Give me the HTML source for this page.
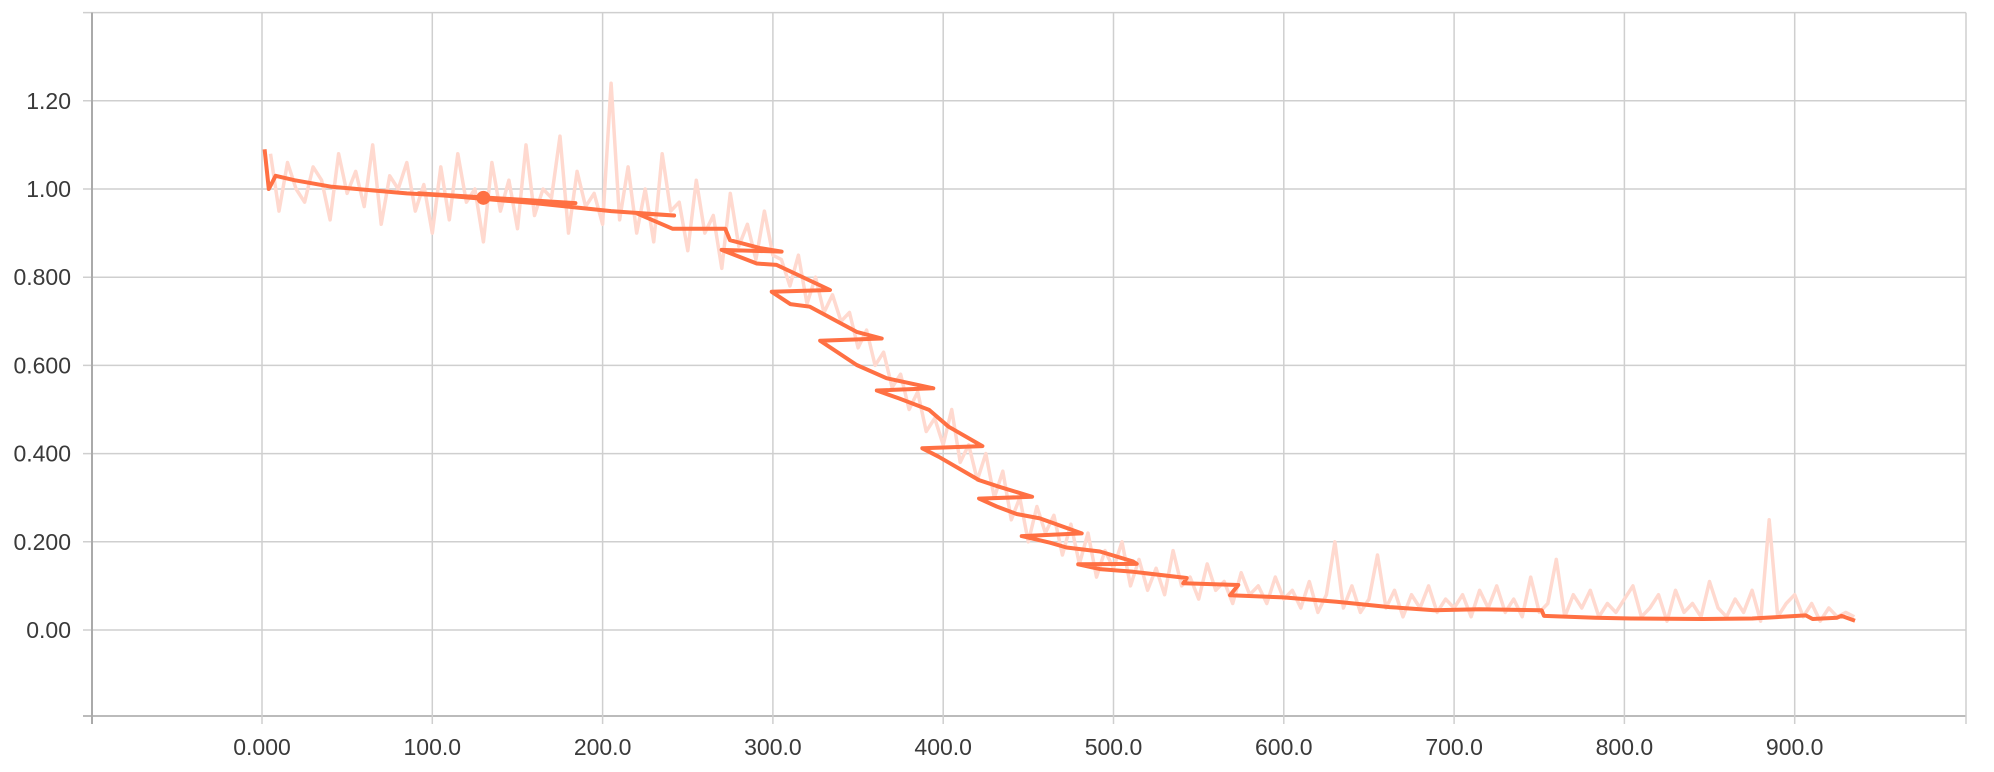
<!DOCTYPE html>
<html><head><meta charset="utf-8">
<style>
html,body{margin:0;padding:0;background:#fff;}
svg{display:block;}
text{font-family:"Liberation Sans",sans-serif;font-size:23px;fill:#3a3a3a;}
</style></head>
<body>
<svg id="chart" width="1994" height="772" viewBox="0 0 1994 772" xmlns="http://www.w3.org/2000/svg">
<g id="grid"></g>
<g id="axes"></g>
<g id="series"></g>
</svg>
<script>
const yTicks=[0,0.2,0.4,0.6,0.8,1.0,1.2];
const yTickLabels=["0.00","0.200","0.400","0.600","0.800","1.00","1.20"];
const xTicks=[0,100,200,300,400,500,600,700,800,900];
const xTickLabels=["0.000","100.0","200.0","300.0","400.0","500.0","600.0","700.0","800.0","900.0"];
const rawStart=5, rawStep=5;
const rawValues=[
1.08,0.95,1.06,1.0,0.97,1.05,1.02,0.93,1.08,0.99,1.04,0.96,1.1,0.92,1.03,1.0,1.06,0.95,1.01,0.9,
1.05,0.93,1.08,0.97,1.0,0.88,1.06,0.95,1.02,0.91,1.1,0.94,1.0,0.98,1.12,0.9,1.04,0.96,0.99,0.92,
1.24,0.93,1.05,0.9,1.0,0.88,1.08,0.95,0.97,0.86,1.02,0.9,0.94,0.82,0.99,0.87,0.92,0.84,0.95,0.85,
0.84,0.78,0.85,0.74,0.8,0.72,0.76,0.7,0.72,0.64,0.68,0.6,0.63,0.55,0.58,0.5,0.54,0.45,0.48,0.42,
0.5,0.38,0.42,0.34,0.4,0.3,0.36,0.25,0.3,0.2,0.28,0.22,0.26,0.17,0.24,0.15,0.22,0.12,0.18,0.14,
0.2,0.1,0.16,0.09,0.14,0.08,0.18,0.1,0.12,0.07,0.15,0.09,0.11,0.06,0.13,0.08,0.1,0.06,0.12,0.07,
0.09,0.05,0.11,0.04,0.08,0.2,0.05,0.1,0.04,0.07,0.17,0.05,0.09,0.03,0.08,0.05,0.1,0.04,0.07,0.05,
0.08,0.03,0.09,0.05,0.1,0.04,0.07,0.03,0.12,0.04,0.06,0.16,0.03,0.08,0.05,0.09,0.03,0.06,0.04,0.07,
0.1,0.03,0.05,0.08,0.02,0.09,0.04,0.06,0.03,0.11,0.05,0.03,0.07,0.04,0.09,0.02,0.25,0.03,0.06,0.08,
0.03,0.06,0.02,0.05,0.03,0.04,0.03];
const smoothX=[1.5,4,8,19,41,85,130,184,92,160,205,242,220,241,272,274.8,292.4,305.1,269.9,290.5,302.2,333.5,299.3,310.2,321.7,349.2,363.9,327.7,349.2,366.7,394.2,361.0,374.2,391.7,403.2,423.0,387.7,397.3,421.0,432.7,452.2,421.0,431.4,443.1,456.8,470.5,481.3,446.1,462.7,472.4,492.0,511.6,513.6,479.3,492.0,511.6,543.0,541.0,573.3,568.4,599.7,631.0,662.1,688.4,714.6,751.4,752.8,783.0,804.0,846.1,875.0,906.5,910.5,924.9,927.5,935.4];
const smoothY=[1.09,1.0,1.03,1.02,1.005,0.99,0.98,0.968,0.99,0.968,0.95,0.94,0.945,0.91,0.91,0.884,0.866,0.858,0.862,0.831,0.828,0.771,0.767,0.739,0.733,0.676,0.661,0.656,0.601,0.571,0.548,0.543,0.525,0.499,0.461,0.417,0.412,0.393,0.340,0.325,0.302,0.298,0.280,0.263,0.253,0.234,0.219,0.213,0.198,0.187,0.178,0.155,0.150,0.149,0.138,0.132,0.118,0.106,0.102,0.079,0.074,0.064,0.052,0.045,0.047,0.045,0.032,0.028,0.026,0.025,0.026,0.033,0.025,0.028,0.032,0.021];
const markerX=[130], markerY=[0.98];

const NS="http://www.w3.org/2000/svg";
const X0=92,X1=1966,Y0=12.6,Y1=716;
function xs(v){return 262+v*1.703;}
function ys(v){return 630-v*441;}
function mk(tag,attrs,parent){const e=document.createElementNS(NS,tag);for(const k in attrs)e.setAttribute(k,attrs[k]);parent.appendChild(e);return e;}
const grid=document.getElementById('grid'),axes=document.getElementById('axes'),series=document.getElementById('series');

const hLevels=[-0.2,0,0.2,0.4,0.6,0.8,1.0,1.2,1.4];
hLevels.forEach(v=>{
  const y=v>1.3?Y0:(v<-0.1?Y1:ys(v));
  const l=mk('line',{x1:83,x2:X1,y1:y,y2:y,stroke:v<-0.1?'#bbb':'#cfcfcf','stroke-width':v<-0.1?2:1.5},grid);
  
  
});
for(let v=-100;v<=1000;v+=100){
  const x=v===-100?X0:(v===1000?X1:xs(v));
  const l=mk('line',{x1:x,x2:x,y1:Y0,y2:724,stroke:(v===-100)?'#aaa':'#cfcfcf','stroke-width':v===-100?2:1.5},grid);
  
  
}
yTicks.forEach((v,i)=>{
  const t=mk('text',{x:71,y:ys(v)+8,'text-anchor':'end'},axes);
  t.textContent=yTickLabels[i];
  
  
});
xTicks.forEach((v,i)=>{
  const t=mk('text',{x:xs(v),y:755,'text-anchor':'middle'},axes);
  t.textContent=xTickLabels[i];
  
  
});
let rp=rawValues.map((v,i)=>xs(rawStart+i*rawStep).toFixed(1)+','+ys(v).toFixed(1)).join(' ');
const raw=mk('polyline',{points:rp,fill:'none',stroke:'#ffd9cf','stroke-width':3.5,'stroke-linejoin':'round'},series);


let sp=smoothX.map((x,i)=>xs(x).toFixed(1)+','+ys(smoothY[i]).toFixed(1)).join(' ');
const sm=mk('polyline',{points:sp,fill:'none',stroke:'#ff7043','stroke-width':4,'stroke-linejoin':'round'},series);


markerX.forEach((x,i)=>{
  const c=mk('circle',{cx:xs(x),cy:ys(markerY[i]),r:7,fill:'#ff7043'},series);
  
  
});
</script>
</body></html>
